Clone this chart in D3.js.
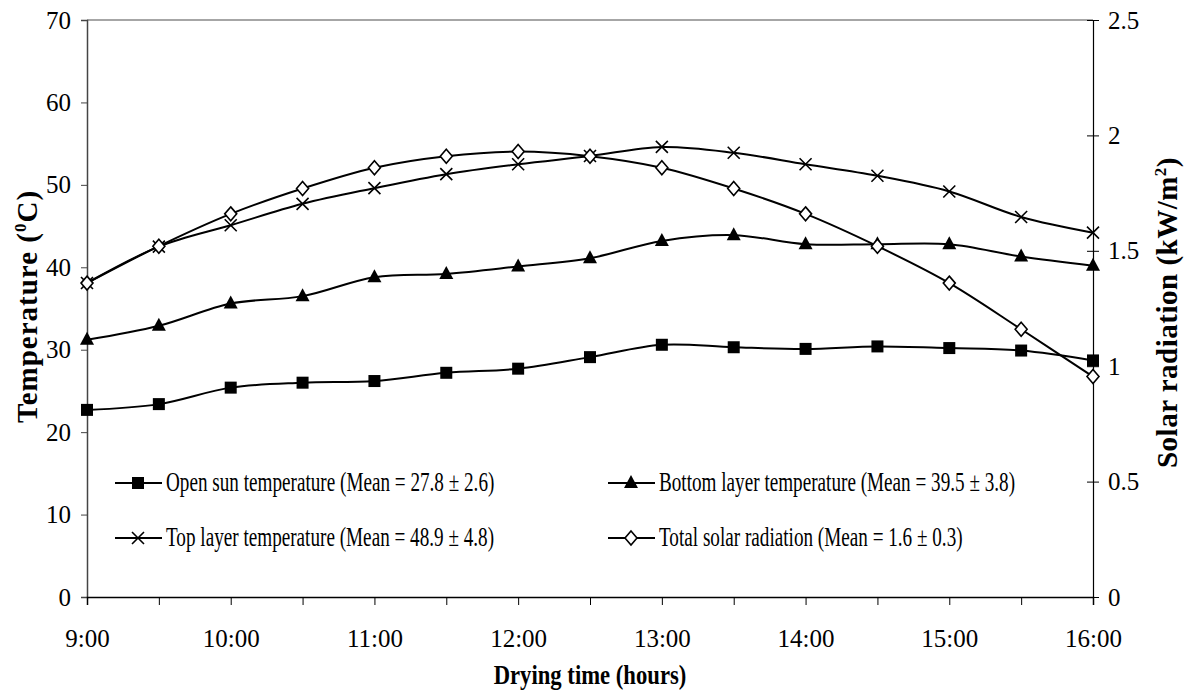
<!DOCTYPE html>
<html>
<head>
<meta charset="utf-8">
<script src="https://cdn.jsdelivr.net/npm/d3@7"></script>
<style>
    body { margin: 0; background: #fff; }
    svg, svg text { font-family: 'Liberation Serif', 'Times New Roman', serif; }
</style>
</head>
<body>
<svg id="chart" width="1190" height="691"></svg>
<script>
// drying time in hours (9:00 .. 16:00, every half hour)
const hours = [9, 9.5, 10, 10.5, 11, 11.5, 12, 12.5, 13, 13.5, 14, 14.5, 15, 15.5, 16]
const openSun = [22.7, 23.4, 25.4, 26.0, 26.2, 27.2, 27.7, 29.1, 30.6, 30.3, 30.1, 30.4, 30.2, 29.9, 28.7]
const bottomLayer = [31.2, 32.9, 35.6, 36.5, 38.8, 39.2, 40.1, 41.1, 43.2, 43.9, 42.8, 42.8, 42.8, 41.3, 40.2]
const topLayer = [38.1, 42.5, 45.1, 47.7, 49.6, 51.3, 52.5, 53.5, 54.6, 53.9, 52.5, 51.1, 49.2, 46.1, 44.2]
const solarRad = [1.36, 1.52, 1.66, 1.77, 1.86, 1.91, 1.93, 1.91, 1.86, 1.77, 1.66, 1.52, 1.36, 1.16, 0.955]
const tempTicks = [0, 10, 20, 30, 40, 50, 60, 70]
const radTicks = [0, 0.5, 1, 1.5, 2, 2.5]
const legendLabels = [
    'Open sun temperature (Mean = 27.8 ± 2.6)',
    'Bottom layer temperature (Mean = 39.5 ± 3.8)',
    'Top layer temperature (Mean = 48.9 ± 4.8)',
    'Total solar radiation (Mean = 1.6 ± 0.3)'
]

const margin = { top: 20, right: 97, bottom: 94, left: 87 }
const W = 1190, H = 691
const width = W - margin.left - margin.right
const height = H - margin.top - margin.bottom
const FONT = 'Liberation Serif'

const svg = d3.select('#chart')

const x = d3.scaleLinear().domain([9, 16]).range([margin.left, margin.left + width])
const yT = d3.scaleLinear().domain([0, 70]).range([margin.top + height, margin.top])
const yR = d3.scaleLinear().domain([0, 2.5]).range([margin.top + height, margin.top])

const styleTicks = (g, color) => {
    g.attr('font-family', null)
    g.selectAll('.tick line').style('stroke', color)
    g.selectAll('text')
        .style('font-family', FONT)
        .style('font-size', '25px')
        .style('fill', '#000')
}

// top border
svg.append('line')
    .attr('x1', margin.left).attr('x2', margin.left + width)
    .attr('y1', margin.top).attr('y2', margin.top)
    .style('stroke', '#888').style('stroke-width', 1.5)

// left axis
const leftAxis = svg.append('g')
    .attr('transform', `translate(${margin.left},0)`)
    .call(d3.axisLeft(yT).tickValues(tempTicks).tickSize(6).tickPadding(10).tickFormat(d3.format('d')))
leftAxis.select('.domain').style('stroke', '#444').style('stroke-width', 1.5)
styleTicks(leftAxis, '#444')

// right axis, ticks cross the line
const rightAxis = svg.append('g')
    .attr('transform', `translate(${margin.left + width},0)`)
    .call(d3.axisRight(yR).tickValues(radTicks).tickSize(6).tickPadding(9).tickFormat(d => d))
rightAxis.select('.domain').style('stroke', '#000').style('stroke-width', 1.2)
rightAxis.selectAll('.tick line').attr('x1', -6)
styleTicks(rightAxis, '#000')

// bottom axis: ticks every half hour, labels on the hour
const bottomAxis = svg.append('g')
    .attr('transform', `translate(0,${margin.top + height})`)
    .call(d3.axisBottom(x).tickValues(hours).tickSize(8).tickPadding(24)
        .tickFormat(d => Number.isInteger(d) ? `${d}:00` : ''))
bottomAxis.select('.domain').style('stroke', '#000').style('stroke-width', 1.5)
styleTicks(bottomAxis, '#000')

// axis titles
svg.append('text')
    .attr('transform', `translate(37,${margin.top + height / 2 - 2}) rotate(-90)`)
    .attr('text-anchor', 'middle')
    .style('font-size', '29px').style('font-weight', 'bold').style('letter-spacing', '1px')
    .html('Temperature (<tspan dy="-11" font-size="17">0</tspan><tspan dy="11">C)</tspan>')

svg.append('text')
    .attr('transform', `translate(1177,${margin.top + height / 2 + 4}) rotate(-90)`)
    .attr('text-anchor', 'middle')
    .style('font-size', '29px').style('font-weight', 'bold').style('letter-spacing', '0.5px')
    .html('Solar radiation (kW/m<tspan dy="-11" font-size="17">2</tspan><tspan dy="11">)</tspan>')

svg.append('text')
    .attr('transform', `translate(${margin.left + width / 2},684) scale(0.84,1)`)
    .attr('text-anchor', 'middle')
    .style('font-size', '27px').style('font-weight', 'bold')
    .text('Drying time (hours)')

// markers
const drawMarker = (g, kind, cx, cy) => {
    if (kind === 'square')
        g.append('rect').attr('x', cx - 6).attr('y', cy - 6).attr('width', 12).attr('height', 12)
            .style('fill', '#000')
    else if (kind === 'triangle')
        g.append('path').attr('d', `M${cx},${cy - 8}L${cx + 7},${cy + 5}L${cx - 7},${cy + 5}Z`)
            .style('fill', '#000')
    else if (kind === 'cross')
        g.append('path').attr('d', `M${cx - 6},${cy - 6}L${cx + 6},${cy + 6}M${cx - 6},${cy + 6}L${cx + 6},${cy - 6}`)
            .style('stroke', '#000').style('stroke-width', 1.6).style('fill', 'none')
    else
        g.append('path').attr('d', `M${cx},${cy - 7}L${cx + 6},${cy}L${cx},${cy + 7}L${cx - 6},${cy}Z`)
            .style('fill', '#fff').style('stroke', '#000').style('stroke-width', 1.6)
}

const series = [
    { values: openSun, y: yT, kind: 'square' },
    { values: bottomLayer, y: yT, kind: 'triangle' },
    { values: topLayer, y: yT, kind: 'cross' },
    { values: solarRad, y: yR, kind: 'diamond' }
]

const plot = svg.append('g')
series.forEach(s => {
    const line = d3.line()
        .x((d, i) => x(hours[i]))
        .y(d => s.y(d))
        .curve(d3.curveCatmullRom.alpha(0))
    plot.append('path')
        .datum(s.values)
        .attr('d', line)
        .style('fill', 'none')
        .style('stroke', '#000')
        .style('stroke-width', 2)
})
series.forEach(s => {
    const g = plot.append('g')
    s.values.forEach((v, i) => drawMarker(g, s.kind, x(hours[i]), s.y(v)))
})

// legend, two columns by two rows
const legendPos = [[115, 483], [608, 483], [115, 538], [608, 538]]
series.forEach((s, i) => {
    const [lx, ly] = legendPos[i]
    const g = svg.append('g')
    g.append('line')
        .attr('x1', lx).attr('x2', lx + 47)
        .attr('y1', ly).attr('y2', ly)
        .style('stroke', '#000').style('stroke-width', 2)
    drawMarker(g, s.kind, lx + 23, ly)
    g.append('text')
        .attr('transform', `translate(${lx + 51},${ly + 8}) scale(0.71,1)`)
        .style('font-size', '27px')
        .text(legendLabels[i])
})
</script>
</body>
</html>
